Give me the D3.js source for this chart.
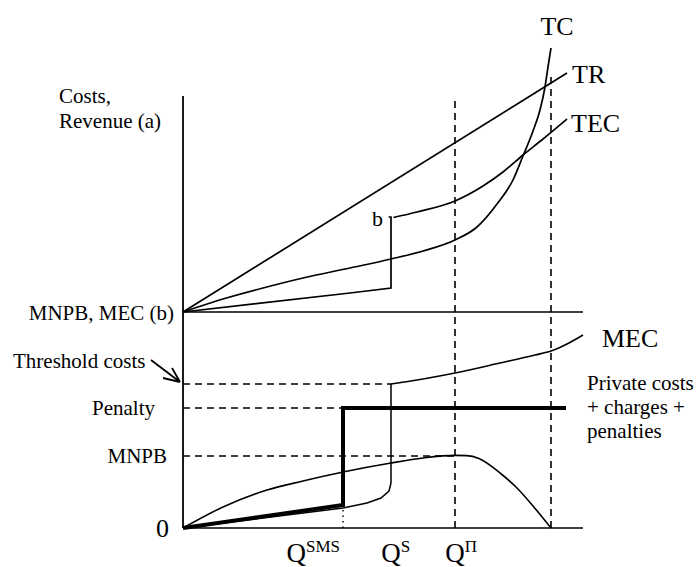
<!DOCTYPE html>
<html><head><meta charset="utf-8">
<script src="https://cdn.jsdelivr.net/npm/d3@7"></script>
<style>body{margin:0;background:#fff}svg{display:block}text{font-family:"Liberation Serif","Times New Roman",serif;fill:#000}</style>
</head><body><div id="chart"></div>
<script>
// Quantity markers (x, 0..100)
const qLabels = [{main:"Q",sup:"SMS",x:40},{main:"Q",sup:"S",x:52},{main:"Q",sup:"\u03A0",x:68}];
const qEnd = 92;
// Upper panel series (x, value)
const trData  = [[0,0],[96,239]];
const tcData  = [[0,0],[10,13],[20,24],[30,34],[41.75,44],[52,53],[60,61],[68,72],[73.5,85],[78.5,108],[82.5,132],[85,156],[87.5,181],[89.25,202],[90.5,225],[91.25,245],[92,264]];
const tecLow  = [[0,0],[41.75,19],[52,24],[52,95],[51.4,95]];
const tecHigh = [[52.6,94.5],[58.5,100],[68,111],[75,126],[80,140],[85,157],[90,173],[96,193]];
// Lower panel series
const levels = {threshold:144, penalty:120, mnpb:72};
const mecLow  = [[0,0],[20,10],[40,20],[46,25],[49.5,30],[51.5,37],[52,45],[52,144]];
const mecHigh = [[52,144],[60,149],[68,155],[79.25,165],[88,173],[92,177],[96,184],[100,193]];
const penaltyData = [[0,0],[40,23],[40,120],[95.75,120]];
const mnpbData = [[0,0],[10,21],[21,38],[30,47],[40,56],[52,65],[60,70],[68,72.6],[71,72.4],[74,69.5],[79.25,55],[83.5,40],[87.5,22],[92,0]];

const W=696,H=567;
const svg=d3.select("#chart").append("svg").attr("width",W).attr("height",H);
const x=d3.scaleLinear().domain([0,100]).range([183,583]);
const yU=d3.scaleLinear().domain([0,216]).range([312,96]);
const yL=d3.scaleLinear().domain([0,216]).range([528,312]);

function path(data,ys,curve,w,dash){
  const p=svg.append("path").datum(data)
    .attr("d",d3.line().x(d=>x(d[0])).y(d=>ys(d[1])).curve(curve||d3.curveLinear))
    .attr("fill","none").attr("stroke","#000").attr("stroke-width",w||1.6);
  if(dash) p.attr("stroke-dasharray",dash);
  return p;
}
// axes
path([[0,0],[0,216]],yU,null,1.8);
path([[0,0],[0,216]],yL,null,1.8);
path([[0,0],[100,0]],yU,null,1.6);
path([[0,0],[100,0]],yL,null,1.6);

// dashed guides
const dash="7,5";
path([[68,0],[68,212]],yL,null,1.6,dash);
path([[68,0],[68,212]],yU,null,1.6,dash);
path([[qEnd,0],[qEnd,216]],yL,null,1.6,dash);
path([[qEnd,0],[qEnd,239]],yU,null,1.6,dash);
path([[0,levels.threshold],[52,levels.threshold]],yL,null,1.4,dash);
path([[0,levels.penalty],[40,levels.penalty]],yL,null,1.4,dash);
path([[0,levels.mnpb],[68,levels.mnpb]],yL,null,1.4,dash);
path([[40,0],[40,18]],yL,null,1.4,"1.5,4");

// upper curves
path(trData,yU,null,1.7);
path(tcData,yU,d3.curveMonotoneX,1.7);
path(tecLow,yU,null,1.7);
path(tecHigh,yU,d3.curveMonotoneX,1.7);

// lower curves
path(mecLow,yL,null,1.5);
path(mecHigh,yL,d3.curveMonotoneX,1.6);
path(mnpbData,yL,d3.curveMonotoneX,1.6);
path(penaltyData,yL,null,4);

// labels
function t(txt,px,py,size,anchor){
  return svg.append("text").attr("x",px).attr("y",py).attr("font-size",size).attr("text-anchor",anchor||"start").text(txt);
}
t("Costs,",59,103,21);
t("Revenue (a)",59,128,21);
t("MNPB, MEC (b)",174,320,21,"end");
t("Threshold costs",13,368,21);
t("Penalty",155,415,21,"end");
t("MNPB",167,463,21,"end");
t("0",169,537,26,"end");
t("TC",557,35,26,"middle");
t("TR",572,83,26);
t("TEC",571,132,26);
t("MEC",602,347,26);
t("b",372,226,22);
t("Private costs",587,390,21);
t("+ charges +",587,414,21);
t("penalties",587,438,21);

// arrow for threshold costs
svg.append("path").attr("d","M151,360 L180,382 M180,382 L163,378 M180,382 L172,368")
  .attr("fill","none").attr("stroke","#000").attr("stroke-width",1.8);

// Q labels
qLabels.forEach(q=>{
  const tx=svg.append("text").attr("y",562).attr("font-size",27);
  const m=tx.append("tspan").text(q.main);
  tx.append("tspan").attr("font-size",17).attr("dy",-10).text(q.sup);
  const wAll=tx.node().getComputedTextLength();
  const wQ=m.node().getComputedTextLength();
  const px=x(q.x);
  tx.attr("x", q.sup.length>1 ? px-3-wAll : px-wQ/2);
});
</script></body></html>
